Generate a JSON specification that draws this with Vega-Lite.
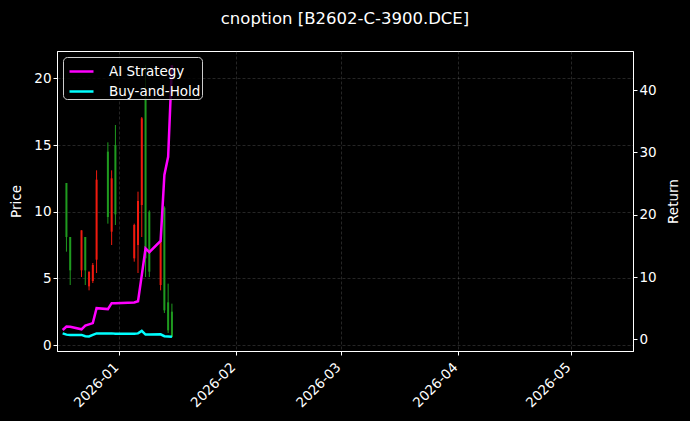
{
  "$schema": "https://vega.github.io/schema/vega-lite/v6.json",
  "width": 576,
  "height": 300,
  "autosize": {"type": "none"},
  "padding": {"left": 57, "top": 51, "right": 57, "bottom": 70},
  "background": "black",
  "title": {
    "text": "cnoption [B2602-C-3900.DCE]",
    "color": "white",
    "font": "DejaVu Sans",
    "fontSize": 16.5,
    "fontWeight": "normal",
    "anchor": "middle",
    "offset": 24
  },
  "datasets": {
    "candles": [
      {"date": "2025-12-18", "open": 8.1, "high": 12.15, "low": 7.0, "close": 12.15, "dir": "up"},
      {"date": "2025-12-19", "open": 5.6, "high": 8.1, "low": 4.5, "close": 8.1, "dir": "up"},
      {"date": "2025-12-22", "open": 8.6, "high": 8.6, "low": 5.1, "close": 5.6, "dir": "down"},
      {"date": "2025-12-23", "open": 5.6, "high": 8.1, "low": 4.5, "close": 8.1, "dir": "up"},
      {"date": "2025-12-24", "open": 5.5, "high": 5.5, "low": 4.1, "close": 4.4, "dir": "down"},
      {"date": "2025-12-25", "open": 6.0, "high": 6.15, "low": 4.65, "close": 4.8, "dir": "down"},
      {"date": "2025-12-26", "open": 12.4, "high": 13.1, "low": 5.4, "close": 6.4, "dir": "down"},
      {"date": "2025-12-29", "open": 9.6, "high": 15.2, "low": 9.1, "close": 14.5, "dir": "up"},
      {"date": "2025-12-30", "open": 12.5, "high": 13.1, "low": 7.5, "close": 8.5, "dir": "down"},
      {"date": "2025-12-31", "open": 9.8, "high": 16.5, "low": 9.0, "close": 15.0, "dir": "up"},
      {"date": "2026-01-05", "open": 9.0, "high": 9.1, "low": 6.25, "close": 6.5, "dir": "down"},
      {"date": "2026-01-06", "open": 10.8, "high": 11.5, "low": 5.4, "close": 7.5, "dir": "down"},
      {"date": "2026-01-07", "open": 17.0, "high": 17.1, "low": 8.1, "close": 10.5, "dir": "down"},
      {"date": "2026-01-08", "open": 6.5, "high": 21.0, "low": 5.1, "close": 18.5, "dir": "up"},
      {"date": "2026-01-09", "open": 5.5, "high": 10.1, "low": 5.1, "close": 10.0, "dir": "up"},
      {"date": "2026-01-12", "open": 7.8, "high": 7.9, "low": 4.1, "close": 4.5, "dir": "down"},
      {"date": "2026-01-13", "open": 2.6, "high": 10.4, "low": 2.4, "close": 10.3, "dir": "up"},
      {"date": "2026-01-14", "open": 1.1, "high": 4.6, "low": 0.9, "close": 3.2, "dir": "up"},
      {"date": "2026-01-15", "open": 0.6, "high": 3.1, "low": 0.57, "close": 2.5, "dir": "up"}
    ],
    "returns": [
      {"date": "2025-12-17", "series": "AI Strategy", "value": 1.5},
      {"date": "2025-12-18", "series": "AI Strategy", "value": 2.05},
      {"date": "2025-12-19", "series": "AI Strategy", "value": 2.0},
      {"date": "2025-12-22", "series": "AI Strategy", "value": 1.6},
      {"date": "2025-12-23", "series": "AI Strategy", "value": 2.2},
      {"date": "2025-12-24", "series": "AI Strategy", "value": 2.4},
      {"date": "2025-12-25", "series": "AI Strategy", "value": 2.6},
      {"date": "2025-12-26", "series": "AI Strategy", "value": 5.0},
      {"date": "2025-12-29", "series": "AI Strategy", "value": 4.85},
      {"date": "2025-12-30", "series": "AI Strategy", "value": 5.8},
      {"date": "2025-12-31", "series": "AI Strategy", "value": 5.8},
      {"date": "2026-01-05", "series": "AI Strategy", "value": 5.9},
      {"date": "2026-01-06", "series": "AI Strategy", "value": 6.1},
      {"date": "2026-01-07", "series": "AI Strategy", "value": 10.3},
      {"date": "2026-01-08", "series": "AI Strategy", "value": 14.6},
      {"date": "2026-01-09", "series": "AI Strategy", "value": 14.0},
      {"date": "2026-01-12", "series": "AI Strategy", "value": 15.8},
      {"date": "2026-01-13", "series": "AI Strategy", "value": 26.4},
      {"date": "2026-01-14", "series": "AI Strategy", "value": 29.3},
      {"date": "2026-01-15", "series": "AI Strategy", "value": 44.0},
      {"date": "2025-12-17", "series": "Buy-and-Hold", "value": 0.95},
      {"date": "2025-12-18", "series": "Buy-and-Hold", "value": 0.75},
      {"date": "2025-12-19", "series": "Buy-and-Hold", "value": 0.7},
      {"date": "2025-12-22", "series": "Buy-and-Hold", "value": 0.7},
      {"date": "2025-12-23", "series": "Buy-and-Hold", "value": 0.5},
      {"date": "2025-12-24", "series": "Buy-and-Hold", "value": 0.45},
      {"date": "2025-12-25", "series": "Buy-and-Hold", "value": 0.7},
      {"date": "2025-12-26", "series": "Buy-and-Hold", "value": 0.95},
      {"date": "2025-12-29", "series": "Buy-and-Hold", "value": 0.95},
      {"date": "2025-12-30", "series": "Buy-and-Hold", "value": 0.95},
      {"date": "2025-12-31", "series": "Buy-and-Hold", "value": 0.9},
      {"date": "2026-01-05", "series": "Buy-and-Hold", "value": 0.9},
      {"date": "2026-01-06", "series": "Buy-and-Hold", "value": 0.95},
      {"date": "2026-01-07", "series": "Buy-and-Hold", "value": 1.35},
      {"date": "2026-01-08", "series": "Buy-and-Hold", "value": 0.75},
      {"date": "2026-01-09", "series": "Buy-and-Hold", "value": 0.75},
      {"date": "2026-01-12", "series": "Buy-and-Hold", "value": 0.8},
      {"date": "2026-01-13", "series": "Buy-and-Hold", "value": 0.5},
      {"date": "2026-01-14", "series": "Buy-and-Hold", "value": 0.45},
      {"date": "2026-01-15", "series": "Buy-and-Hold", "value": 0.4}
    ]
  },
  "encoding": {
    "x": {
      "field": "date",
      "type": "temporal",
      "title": null,
      "scale": {
        "type": "utc",
        "domain": [
          {"year": 2025, "month": 12, "date": 16, "hours": 19, "minutes": 40, "utc": true},
          {"year": 2026, "month": 5, "date": 16, "hours": 2, "utc": true}
        ]
      },
      "axis": {
        "values": [
          {"year": 2026, "month": 1, "date": 1, "utc": true},
          {"year": 2026, "month": 2, "date": 1, "utc": true},
          {"year": 2026, "month": 3, "date": 1, "utc": true},
          {"year": 2026, "month": 4, "date": 1, "utc": true},
          {"year": 2026, "month": 5, "date": 1, "utc": true}
        ],
        "format": "%Y-%m",
        "labelAngle": -45,
        "labelAlign": "right",
        "labelBaseline": "top",
        "labelPadding": 5,
        "labelOffset": -8
      }
    }
  },
  "layer": [
    {
      "data": {"name": "candles"},
      "encoding": {
        "color": {
          "field": "dir",
          "type": "nominal",
          "scale": {"domain": ["up", "down"], "range": ["#1f9a1f", "#f01a0f"]},
          "legend": null
        }
      },
      "layer": [
        {
          "mark": {"type": "rule", "strokeWidth": 1},
          "encoding": {
            "y": {
              "field": "low",
              "type": "quantitative",
              "title": "Price",
              "scale": {"domain": [-0.45, 22.05], "nice": false, "zero": false},
              "axis": {"orient": "left", "values": [0, 5, 10, 15, 20], "titlePadding": 10}
            },
            "y2": {"field": "high"}
          }
        },
        {
          "mark": {"type": "bar", "size": 2},
          "encoding": {
            "y": {"field": "open", "type": "quantitative"},
            "y2": {"field": "close"}
          }
        }
      ]
    },
    {
      "data": {"name": "returns"},
      "mark": {"type": "line", "strokeWidth": 2.5},
      "encoding": {
        "y": {
          "field": "value",
          "type": "quantitative",
          "title": "Return",
          "scale": {"domain": [-1.88, 46.3], "nice": false, "zero": false},
          "axis": {"orient": "right", "values": [0, 10, 20, 30, 40], "titleAngle": 270, "titlePadding": 24}
        },
        "color": {
          "field": "series",
          "type": "nominal",
          "scale": {"domain": ["AI Strategy", "Buy-and-Hold"], "range": ["#ff00ff", "#00ffff"]},
          "legend": {
            "title": null,
            "orient": "top-left",
            "offset": 6,
            "padding": 1,
            "fillColor": "rgba(0,0,0,0.8)",
            "strokeColor": "#cccccc",
            "cornerRadius": 4,
            "symbolType": "stroke",
            "symbolStrokeWidth": 2.5,
            "symbolSize": 576,
            "symbolOffset": 4,
            "labelColor": "white",
            "labelFont": "DejaVu Sans",
            "labelFontSize": 13.5,
            "labelOffset": 14,
            "rowPadding": -3
          }
        }
      }
    }
  ],
  "resolve": {"scale": {"y": "independent", "color": "independent"}},
  "config": {
    "view": {"stroke": "white", "strokeWidth": 1},
    "axis": {
      "labelColor": "white",
      "titleColor": "white",
      "labelFont": "DejaVu Sans",
      "titleFont": "DejaVu Sans",
      "labelFontSize": 13.5,
      "titleFontSize": 13.5,
      "titleFontWeight": "normal",
      "domainColor": "white",
      "tickColor": "white",
      "tickSize": 4,
      "grid": true,
      "gridColor": "#8a8a8a",
      "gridOpacity": 0.45,
      "gridDash": [3, 2],
      "gridWidth": 0.6
    }
  }
}
